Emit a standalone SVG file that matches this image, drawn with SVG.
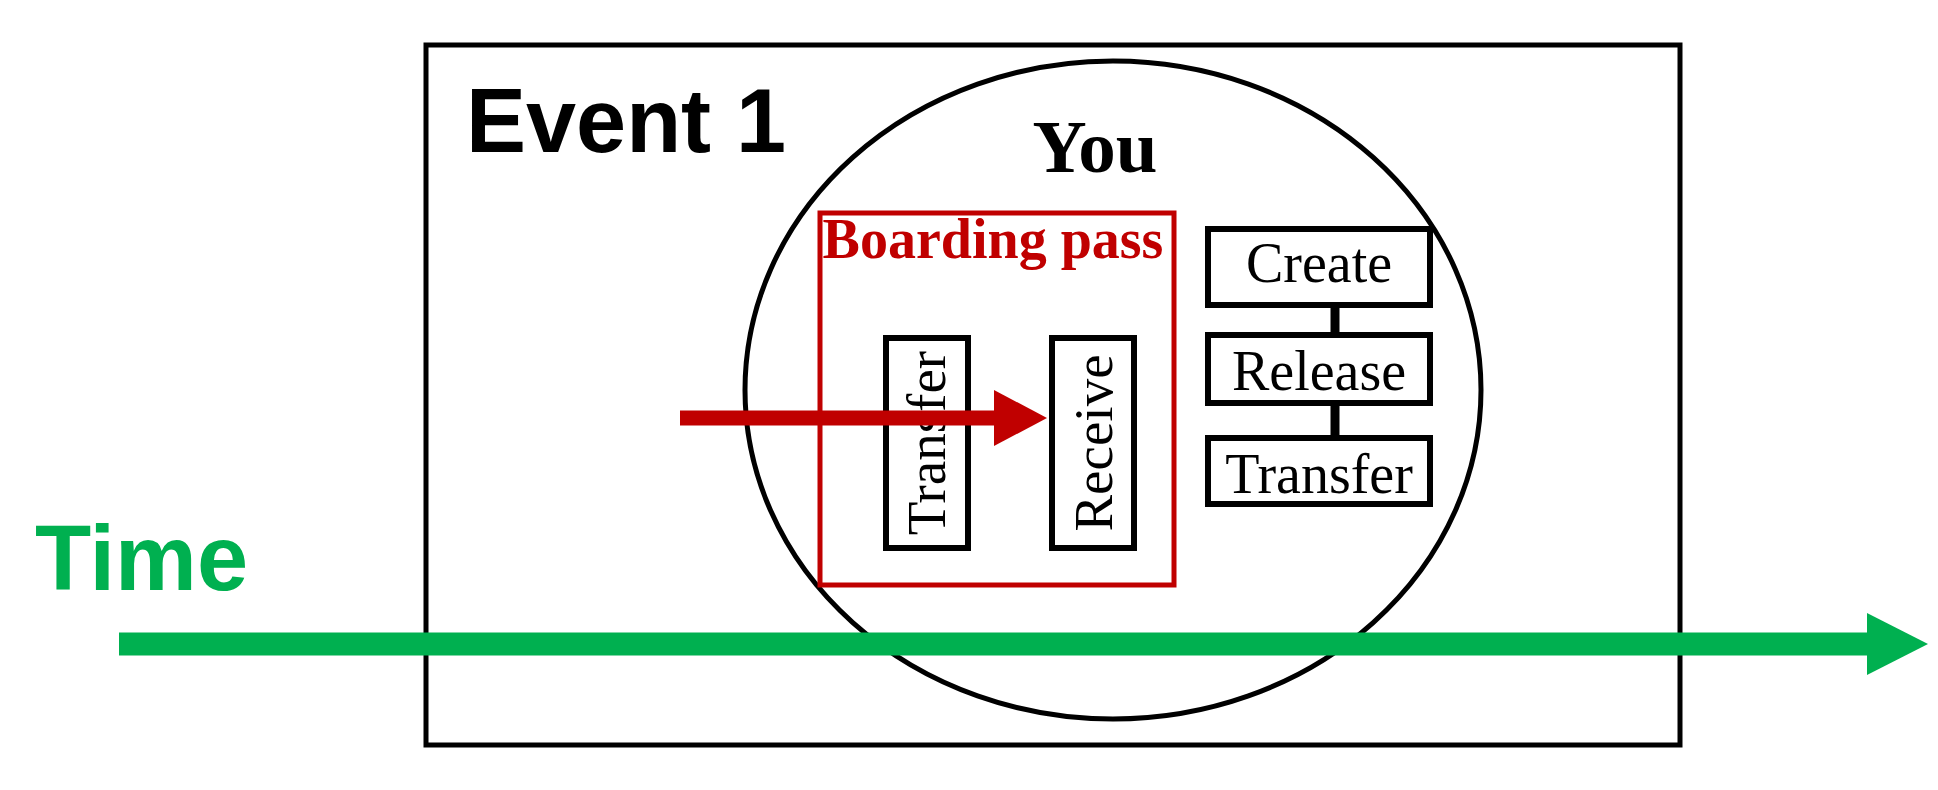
<svg xmlns="http://www.w3.org/2000/svg" width="1938" height="790" viewBox="0 0 1938 790">
<style>
.blk{fill:none;stroke:#000;stroke-width:6}
.tm{font-family:"Liberation Serif",serif;fill:#000}
</style>
<rect width="1938" height="790" fill="#fff"/>
<g id="event1">
<rect x="426" y="45" width="1254" height="700" fill="none" stroke="#000" stroke-width="5"/>
<text x="466" y="152" font-family="Liberation Sans,Arial,sans-serif" font-weight="bold" font-size="90">Event 1</text>
</g>
<g id="you">
<ellipse cx="1113" cy="390" rx="368" ry="329" fill="none" stroke="#000" stroke-width="5"/>
<text x="1095" y="172" class="tm" font-weight="bold" font-size="75" text-anchor="middle">You</text>
</g>
<g id="boarding-pass">
<rect x="820" y="213" width="354" height="372" fill="none" stroke="#c00000" stroke-width="5"/>
<text x="993" y="258" font-family="Liberation Serif,serif" font-weight="bold" font-size="56" fill="#c00000" text-anchor="middle">Boarding pass</text>
</g>
<g id="transfer-v">
<rect x="886" y="338" width="82" height="210" class="blk"/>
<text class="tm" font-size="55" text-anchor="middle" transform="translate(945 443) rotate(-90)">Transfer</text>
</g>
<g id="receive">
<rect x="1052" y="338" width="82" height="210" class="blk"/>
<text class="tm" font-size="55" text-anchor="middle" transform="translate(1112 443) rotate(-90)">Receive</text>
</g>
<g id="create">
<rect x="1208" y="229" width="222" height="76" class="blk"/>
<text x="1319" y="282" class="tm" font-size="56" text-anchor="middle">Create</text>
</g>
<g id="release">
<rect x="1208" y="335" width="222" height="68" class="blk"/>
<text x="1319" y="390" class="tm" font-size="56" text-anchor="middle">Release</text>
</g>
<g id="transfer-h">
<rect x="1208" y="438" width="222" height="66" class="blk"/>
<text x="1319" y="493" class="tm" font-size="56" text-anchor="middle">Transfer</text>
</g>
<g id="time">
<text x="35" y="590" font-family="Liberation Sans,Arial,sans-serif" font-weight="bold" font-size="92" fill="#00b050">Time</text>
</g>
<g id="connectors">
<line x1="1335" y1="305" x2="1335" y2="335" stroke="#000" stroke-width="9"/>
<line x1="1335" y1="403" x2="1335" y2="438" stroke="#000" stroke-width="9"/>
<line x1="680" y1="418" x2="996" y2="418" stroke="#c00000" stroke-width="15"/>
<polygon points="994,390 1047,418 994,446" fill="#c00000"/>
<line x1="119" y1="644" x2="1870" y2="644" stroke="#00b050" stroke-width="23"/>
<polygon points="1867,613 1928,644 1867,675" fill="#00b050"/>
</g>
</svg>
